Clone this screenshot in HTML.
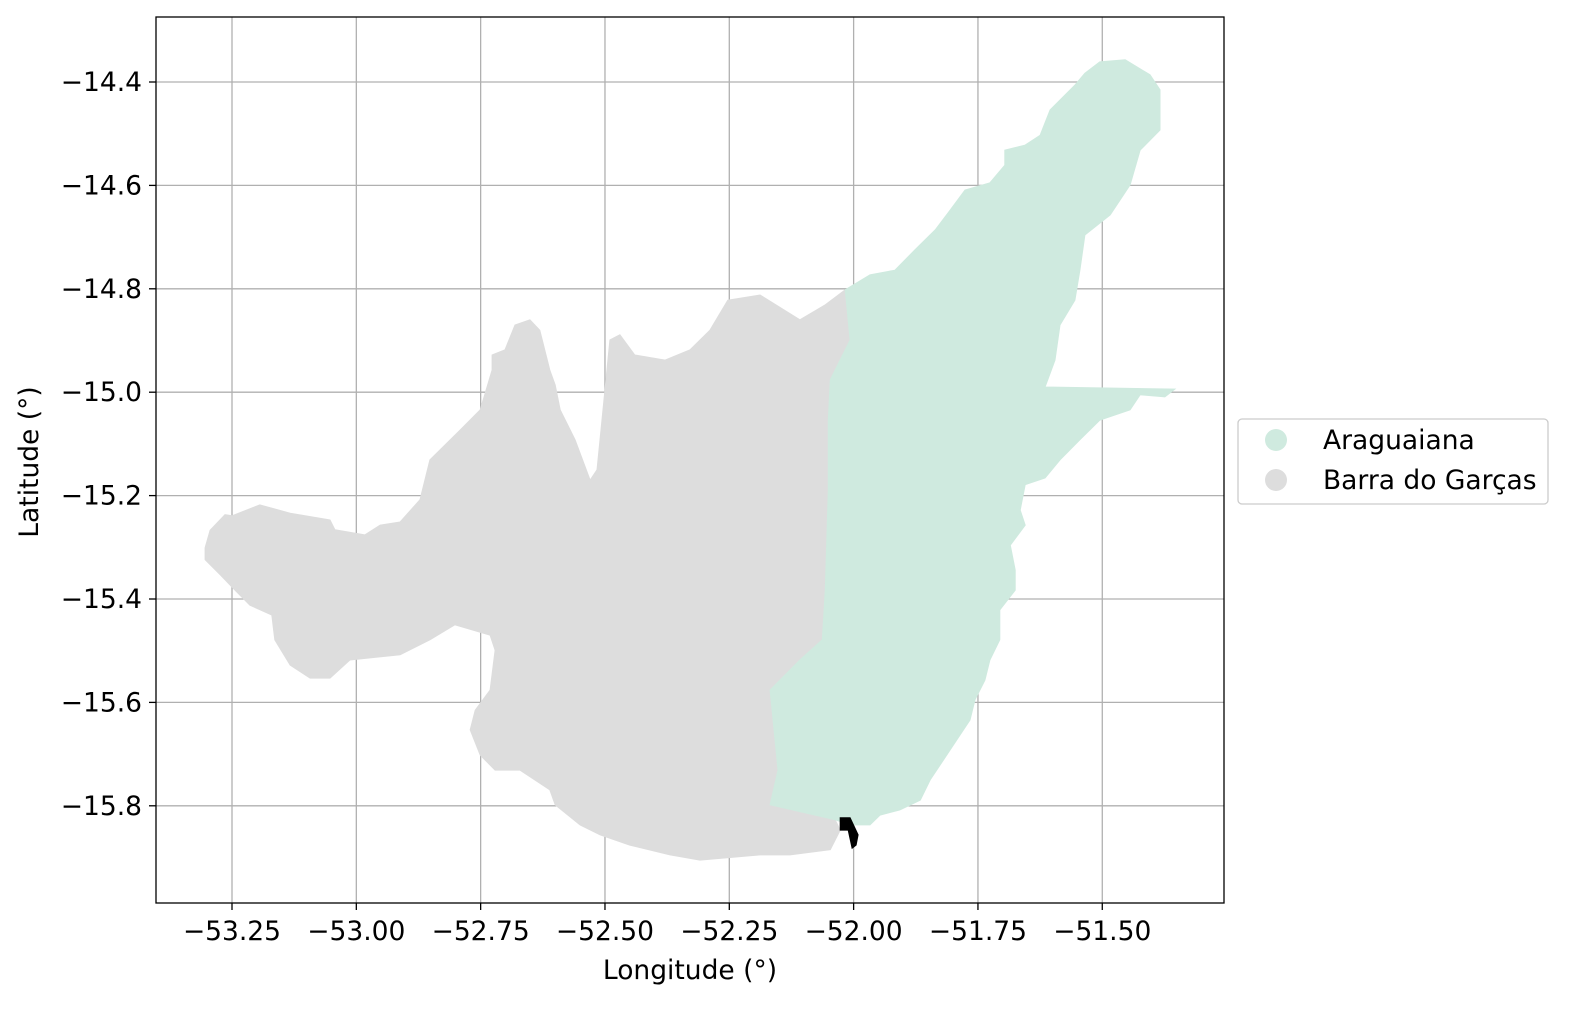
<!DOCTYPE html>
<html><head><meta charset="utf-8"><style>
html,body{margin:0;padding:0;background:#fff;}
svg text{font-family:"DejaVu Sans","Liberation Sans",sans-serif;fill:#000;}
</style></head><body>
<svg id="chart" width="1570" height="1006" viewBox="0 0 1570 1006" xmlns="http://www.w3.org/2000/svg">
<g id="grid"></g>
<g id="regions"></g>
<rect x="156" y="17" width="1068" height="886" fill="none" stroke="#000" stroke-width="1.3"/>
<g id="xticks"></g>
<g id="yticks"></g>
<text x="690" y="979" font-size="26.5" text-anchor="middle">Longitude (°)</text>
<text transform="translate(38,462) rotate(-90)" font-size="26.5" text-anchor="middle">Latitude (°)</text>
<g>
<rect x="1238" y="419" width="310" height="85" rx="4" fill="#fff" stroke="#ccc" stroke-width="1.3"/>
<g>
<circle cx="1276" cy="440" r="11" fill="#cfeadf"/>
<text x="1323" y="449" font-size="26.5">Araguaiana</text></g>
<g>
<circle cx="1276" cy="480" r="11" fill="#dddddd"/>
<text x="1323" y="489" font-size="26.5">Barra do Garças</text></g>
</g>
</svg>
<script>
const xTicks=[-53.25,-53.00,-52.75,-52.50,-52.25,-52.00,-51.75,-51.50];
const xTickLabels=["−53.25","−53.00","−52.75","−52.50","−52.25","−52.00","−51.75","−51.50"];
const yTicks=[-14.4,-14.6,-14.8,-15.0,-15.2,-15.4,-15.6,-15.8];
const yTickLabels=["−14.4","−14.6","−14.8","−15.0","−15.2","−15.4","−15.6","−15.8"];
const barraLon=[-53.304,-53.294,-53.264,-53.250,-53.194,-53.133,-53.053,-53.043,-52.983,-52.952,-52.912,-52.872,-52.852,-52.791,-52.751,-52.727,-52.727,-52.701,-52.681,-52.651,-52.631,-52.611,-52.600,-52.590,-52.560,-52.530,-52.516,-52.510,-52.490,-52.470,-52.440,-52.379,-52.329,-52.289,-52.253,-52.188,-52.108,-52.057,-52.017,-52.007,-52.047,-52.051,-52.051,-52.057,-52.063,-52.108,-52.168,-52.152,-52.168,-52.037,-52.027,-52.047,-52.128,-52.188,-52.309,-52.369,-52.450,-52.510,-52.550,-52.600,-52.611,-52.671,-52.721,-52.751,-52.771,-52.761,-52.731,-52.721,-52.731,-52.802,-52.852,-52.912,-53.013,-53.053,-53.093,-53.133,-53.164,-53.170,-53.214,-53.244,-53.274,-53.304];
const barraLat=[-15.301,-15.267,-15.237,-15.239,-15.218,-15.234,-15.247,-15.266,-15.276,-15.257,-15.251,-15.208,-15.131,-15.073,-15.034,-14.957,-14.928,-14.918,-14.870,-14.860,-14.880,-14.957,-14.986,-15.034,-15.092,-15.170,-15.150,-15.092,-14.899,-14.889,-14.928,-14.938,-14.918,-14.880,-14.822,-14.812,-14.860,-14.831,-14.802,-14.899,-14.976,-15.054,-15.189,-15.382,-15.479,-15.518,-15.576,-15.731,-15.798,-15.827,-15.847,-15.885,-15.895,-15.895,-15.905,-15.895,-15.876,-15.856,-15.837,-15.798,-15.769,-15.731,-15.731,-15.702,-15.653,-15.615,-15.576,-15.499,-15.470,-15.450,-15.479,-15.508,-15.518,-15.553,-15.553,-15.528,-15.479,-15.431,-15.412,-15.383,-15.353,-15.324];
const araguaianaLon=[-52.017,-51.967,-51.917,-51.877,-51.836,-51.806,-51.776,-51.726,-51.696,-51.696,-51.655,-51.625,-51.605,-51.555,-51.535,-51.505,-51.454,-51.404,-51.384,-51.384,-51.424,-51.444,-51.484,-51.535,-51.545,-51.555,-51.585,-51.595,-51.615,-51.354,-51.374,-51.424,-51.444,-51.505,-51.545,-51.585,-51.615,-51.655,-51.665,-51.655,-51.685,-51.675,-51.675,-51.706,-51.706,-51.726,-51.736,-51.756,-51.766,-51.806,-51.846,-51.866,-51.907,-51.947,-51.967,-52.007,-52.037,-52.168,-52.152,-52.168,-52.108,-52.063,-52.057,-52.051,-52.051,-52.047,-52.007];
const araguaianaLat=[-14.802,-14.773,-14.764,-14.725,-14.686,-14.648,-14.609,-14.595,-14.561,-14.532,-14.522,-14.503,-14.454,-14.406,-14.383,-14.361,-14.357,-14.386,-14.415,-14.493,-14.532,-14.599,-14.657,-14.696,-14.764,-14.822,-14.870,-14.938,-14.990,-14.994,-15.009,-15.005,-15.034,-15.054,-15.092,-15.131,-15.166,-15.179,-15.228,-15.257,-15.296,-15.344,-15.383,-15.421,-15.479,-15.518,-15.557,-15.595,-15.634,-15.692,-15.750,-15.789,-15.808,-15.818,-15.837,-15.837,-15.827,-15.798,-15.731,-15.576,-15.518,-15.479,-15.382,-15.189,-15.054,-14.976,-14.899];
const markLon=[-52.027,-52.007,-51.991,-51.995,-52.003,-52.011,-52.027];
const markLat=[-15.823,-15.823,-15.856,-15.876,-15.882,-15.847,-15.847];

const X=v=>232+(v+53.25)*497.3;
const Y=v=>82-(v+14.4)*517;
const NS="http://www.w3.org/2000/svg";
function mk(tag,attrs,parent){const e=document.createElementNS(NS,tag);for(const k in attrs)e.setAttribute(k,attrs[k]);parent.appendChild(e);return e;}
const grid=document.getElementById('grid'),xt=document.getElementById('xticks'),yt=document.getElementById('yticks'),reg=document.getElementById('regions');
xTicks.forEach((t,i)=>{
 const x=X(t);
 const g=mk('line',{x1:x,x2:x,y1:17,y2:903,stroke:'#b0b0b0','stroke-width':1.3},grid);
 
 
 const tk=mk('line',{x1:x,x2:x,y1:903,y2:910,stroke:'#000','stroke-width':1.3},xt);
 
 
 const tx=mk('text',{x:x,y:940,'font-size':26.5,'text-anchor':'middle'},xt);
 tx.textContent=xTickLabels[i];
 
 
});
yTicks.forEach((t,i)=>{
 const y=Y(t);
 const g=mk('line',{x1:156,x2:1224,y1:y,y2:y,stroke:'#b0b0b0','stroke-width':1.3},grid);
 
 
 const tk=mk('line',{x1:149,x2:156,y1:y,y2:y,stroke:'#000','stroke-width':1.3},yt);
 
 
 const tx=mk('text',{x:142,y:y+9,'font-size':26.5,'text-anchor':'end'},yt);
 tx.textContent=yTickLabels[i];
 
 
});
function poly(lons,lats,fill){return mk('polygon',{points:lons.map((v,i)=>X(v).toFixed(1)+','+Y(lats[i]).toFixed(1)).join(' '),fill:fill,stroke:fill,'stroke-width':1},reg);}
const p1=poly(barraLon,barraLat,'#dddddd');


const p2=poly(araguaianaLon,araguaianaLat,'#cfeadf');


const p3=poly(markLon,markLat,'#000');


</script>
</body></html>
